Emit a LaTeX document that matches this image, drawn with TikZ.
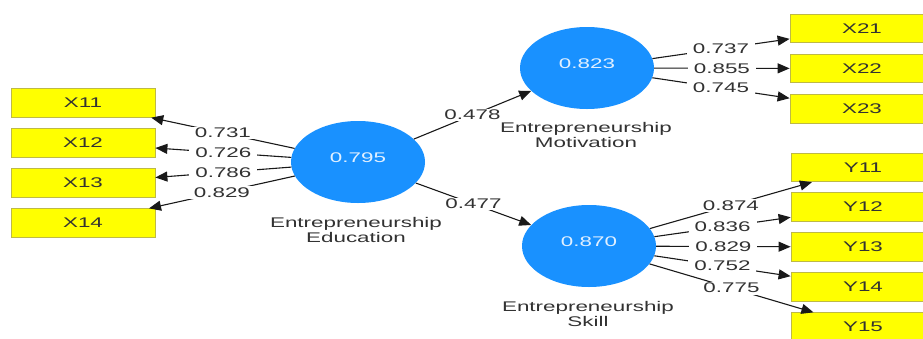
\documentclass[tikz,border=0pt]{standalone}
\usepackage{fontspec}
\setmainfont{Liberation Sans}[FakeStretch=1.6]
\usetikzlibrary{shapes.geometric,arrows.meta}
\definecolor{lvblue}{RGB}{25,145,255}
\definecolor{mvyellow}{RGB}{255,255,0}
\definecolor{mvborder}{RGB}{190,185,70}
\definecolor{txtgray}{RGB}{50,50,50}
\definecolor{numwhite}{RGB}{225,240,255}
\begin{document}
\begin{tikzpicture}[x=1pt,y=-1pt,font=\fontsize{14}{15}\selectfont,
  latent/.style={ellipse, fill=lvblue, minimum width=134pt, minimum height=82pt, inner sep=0pt, text=numwhite, text height=10pt, text depth=10pt},
  indic/.style={rectangle, fill=mvyellow, draw=mvborder, line width=0.8pt, minimum width=144pt, minimum height=28.5pt, inner sep=0pt, text=txtgray},
  lbl/.style={fill=white, inner xsep=6pt, inner ysep=1.5pt, text=txtgray, pos=0.5},
  arr/.style={draw=black!90, line width=1.1pt, -{Triangle[length=12pt,width=10pt]}},
  capt/.style={align=center, anchor=north, inner sep=0pt, text=txtgray}]
\useasboundingbox (0,0) rectangle (923,338);
\clip (0,0) rectangle (923,338);
% latent variables
\node[latent] (edu) at (358,162) {0.795};
\node[latent] (mot) at (587,68) {0.823};
\node[latent] (skl) at (589,246) {0.870};
\node[capt] (capedu) at (356,217) {Entrepreneurship\\Education};
\node[capt] (capmot) at (586,122) {Entrepreneurship\\Motivation};
\node[capt] (capskl) at (588,301) {Entrepreneurship\\Skill};
% indicators
\node[indic] (x11) at (83,103) {X11};
\node[indic] (x12) at (83,143) {X12};
\node[indic] (x13) at (83,183) {X13};
\node[indic] (x14) at (83,223) {X14};
\node[indic] (x21) at (862,28.5) {X21};
\node[indic] (x22) at (862,68.5) {X22};
\node[indic] (x23) at (862,109) {X23};
\node[indic] (y11) at (863,167.5) {Y11};
\node[indic] (y12) at (863,207) {Y12};
\node[indic] (y13) at (863,247) {Y13};
\node[indic] (y14) at (863,287) {Y14};
\node[indic] (y15) at (863,327) {Y15};
% connectors
\draw[arr] (edu) -- node[lbl]{0.731} (x11);
\draw[arr] (edu) -- node[lbl]{0.726} (x12);
\draw[arr] (edu) -- node[lbl]{0.786} (x13);
\draw[arr] (edu) -- node[lbl]{0.829} (x14);
\draw[arr] (edu) -- node[lbl]{0.478} (mot);
\draw[arr] (edu) -- node[lbl]{0.477} (skl);
\draw[arr] (mot) -- node[lbl]{0.737} (x21);
\draw[arr] (mot) -- node[lbl]{0.855} (x22);
\draw[arr] (mot) -- node[lbl]{0.745} (x23);
\draw[arr] (skl) -- node[lbl]{0.874} (y11);
\draw[arr] (skl) -- node[lbl]{0.836} (y12);
\draw[arr] (skl) -- node[lbl]{0.829} (y13);
\draw[arr] (skl) -- node[lbl]{0.752} (y14);
\draw[arr] (skl) -- node[lbl]{0.775} (y15);
\end{tikzpicture}
\end{document}
